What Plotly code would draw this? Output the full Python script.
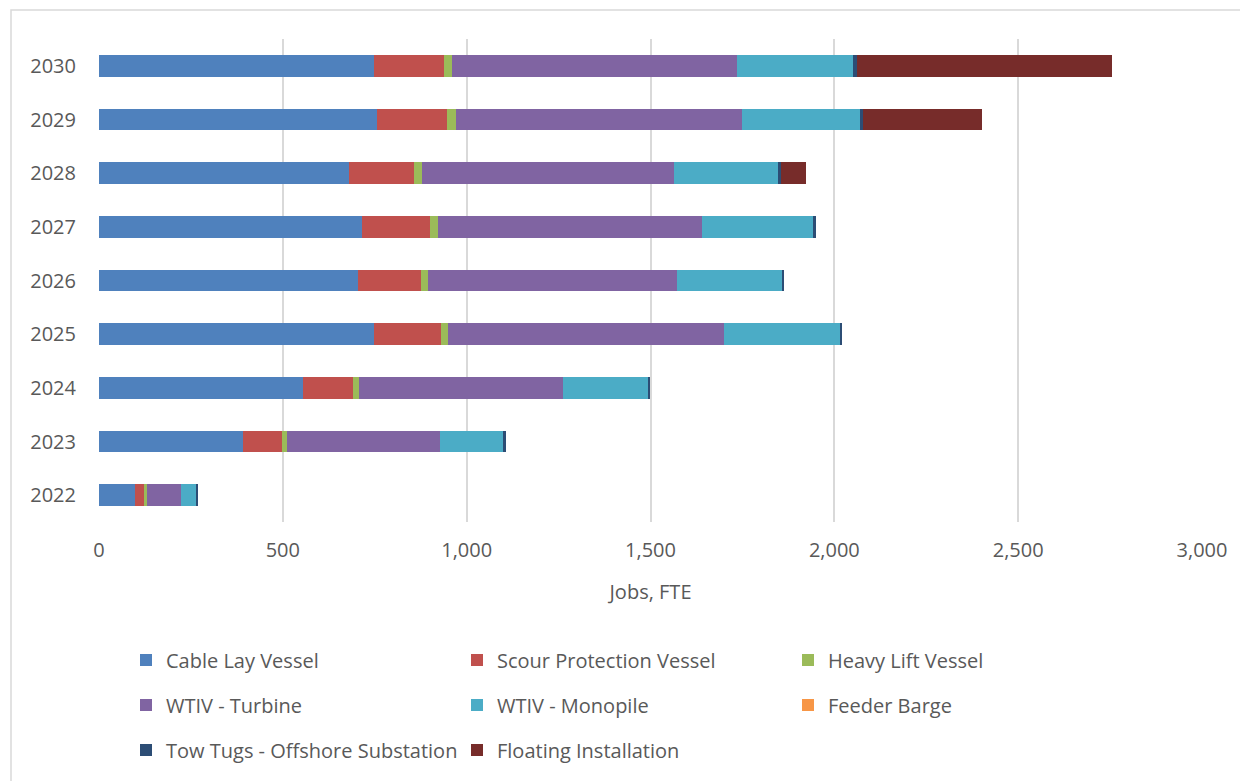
import plotly.graph_objects as go

# DATA
years = ["2022", "2023", "2024", "2025", "2026", "2027", "2028", "2029", "2030"]

cable_lay = [99, 393, 556, 747, 704, 715, 681, 755, 749]
scour_protection = [23, 105, 136, 184, 172, 186, 176, 192, 190]
heavy_lift = [9, 13, 15, 19, 18, 21, 21, 23, 22]
wtiv_turbine = [91, 416, 554, 751, 677, 719, 687, 779, 774]
wtiv_monopile = [42, 174, 234, 315, 288, 300, 282, 320, 317]
feeder_barge = [0, 0, 0, 0, 0, 0, 0, 0, 0]
tow_tugs = [3, 5, 4, 6, 5, 8, 8, 9, 9]
floating = [0, 0, 0, 0, 0, 0, 69, 323, 693]

series = [
    ("Cable Lay Vessel", cable_lay, "#4F81BD", "legend"),
    ("Scour Protection Vessel", scour_protection, "#C0504D", "legend"),
    ("Heavy Lift Vessel", heavy_lift, "#9BBB59", "legend"),
    ("WTIV - Turbine", wtiv_turbine, "#8064A2", "legend2"),
    ("WTIV - Monopile", wtiv_monopile, "#4BACC6", "legend2"),
    ("Feeder Barge", feeder_barge, "#F79646", "legend2"),
    ("Tow Tugs - Offshore Substation", tow_tugs, "#2C4D75", "legend3"),
    ("Floating Installation", floating, "#772C2A", "legend3"),
]

# LAYOUT (pixels, page body adds an 8px offset at top/left)
OFF = 8
W, H = 1248 - OFF, 781 - OFF
ML, MR, MT, MB = 99 - OFF, 46, 39 - OFF, 259
PW, PH = W - ML - MR, H - MT - MB
TEXT = "#595959"
FONT = "Open Sans"


def px_x(x):
    # screenshot pixel -> paper x
    return (x - OFF - ML) / PW


def px_y(y):
    # screenshot pixel -> paper y
    return (H - MB - (y - OFF)) / PH


fig = go.Figure()
for name, vals, color, leg in series:
    fig.add_trace(go.Bar(
        y=years, x=vals, name=name, orientation="h",
        marker=dict(color=color, line=dict(width=0)),
        legend=leg,
    ))

leg_common = dict(
    orientation="h", xanchor="left", yanchor="middle",
    font=dict(family=FONT, size=20, color=TEXT),
    entrywidth=286, entrywidthmode="pixels",
    bgcolor="rgba(0,0,0,0)", traceorder="normal",
)

fig.update_layout(
    width=W, height=H,
    margin=dict(l=ML, r=MR, t=MT, b=MB),
    barmode="stack", bargap=0.6,
    plot_bgcolor="white", paper_bgcolor="white",
    font=dict(family=FONT, size=20, color=TEXT),
    xaxis=dict(
        range=[0, 3000], dtick=500, tickformat=",d",
        showgrid=True, gridcolor="#D9D9D9", gridwidth=2,
        zeroline=False, showline=False,
        ticklabelstandoff=14,
        title=dict(text="Jobs, FTE", standoff=22, font=dict(size=20, color=TEXT)),
    ),
    yaxis=dict(
        type="category", showgrid=False, zeroline=False, showline=False,
        ticklabelstandoff=22,
    ),
    legend=dict(x=px_x(126), y=px_y(660), **leg_common),
    legend2=dict(x=px_x(126), y=px_y(705), **leg_common),
    legend3=dict(x=px_x(126), y=px_y(750), **leg_common),
    shapes=[dict(
        type="rect", xref="paper", yref="paper",
        x0=px_x(11), x1=px_x(1260), y0=px_y(800), y1=px_y(10),
        line=dict(color="#D9D9D9", width=1.5), fillcolor="rgba(0,0,0,0)",
        layer="below",
    )],
    showlegend=True,
)

fig.write_html("out.html")
